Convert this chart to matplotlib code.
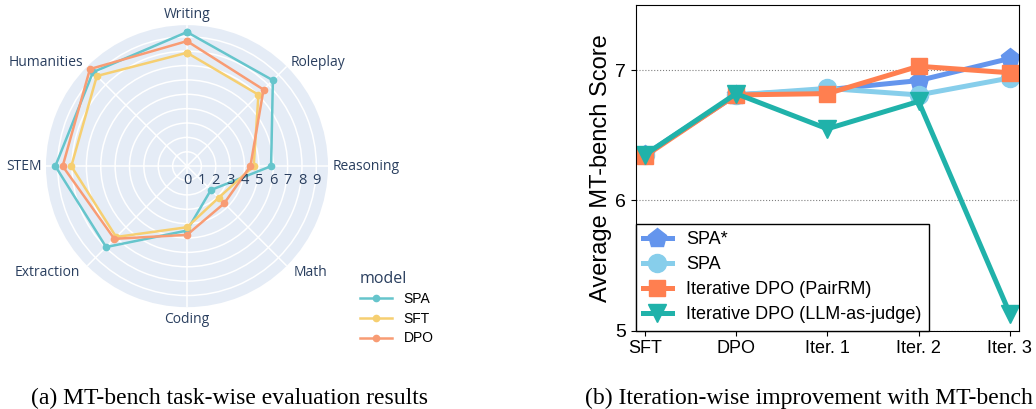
import numpy as np
import matplotlib.pyplot as plt
from matplotlib.lines import Line2D

# ---- data: radar (task-wise MT-bench) ----
tasks = ["Writing", "Roleplay", "Reasoning", "Math", "Coding",
         "Extraction", "STEM", "Humanities"]
spa_task = [9.33, 8.45, 5.85, 2.35, 4.48, 7.96, 9.16, 9.25]
sft_task = [7.89, 7.03, 4.64, 3.11, 4.25, 6.97, 8.05, 8.87]
dpo_task = [8.70, 7.53, 4.41, 3.66, 4.78, 7.15, 8.65, 9.55]
radar_models = ["SPA", "SFT", "DPO"]
radar_ticks = [0, 1, 2, 3, 4, 5, 6, 7, 8, 9]

# ---- data: iteration-wise ----
stages = ["SFT", "DPO", "Iter. 1", "Iter. 2", "Iter. 3"]
spa_star = [6.35, 6.81, 6.85, 6.92, 7.09]
spa_iter = [6.35, 6.81, 6.86, 6.81, 6.94]
dpo_pairrm = [6.34, 6.81, 6.82, 7.03, 6.98]
dpo_judge = [6.35, 6.82, 6.55, 6.76, 5.13]

pastel = ["#66C5CC", "#F6CF71", "#F89C74"]
plotly_txt = "#2a3f5f"

fig = plt.figure(figsize=(10.36, 4.09), dpi=100)

# ================= (a) radar =================
rmax = 9.81
ax = fig.add_axes([0.0444, 0.249, 0.2722, 0.6895], projection="polar")
ax.set_theta_offset(np.pi / 2)
ax.set_theta_direction(-1)
ax.set_facecolor("#E5ECF6")
ax.spines["polar"].set_visible(False)
theta = np.arange(len(tasks)) * 2 * np.pi / len(tasks)
ax.set_xticks(theta)
ax.set_xticklabels([])
ax.set_yticks(radar_ticks[1:])
ax.set_yticklabels([])
ax.set_ylim(0, rmax)
ax.grid(True, color="white", lw=1.1)
ax.tick_params(length=0)

th_closed = np.append(theta, theta[0])
for vals, col in zip([spa_task, sft_task, dpo_task], pastel):
    v = np.append(vals, vals[0])
    ax.plot(th_closed, v, color=col, lw=1.8, marker="o", ms=4.5, clip_on=False)

lab_pos = [(1.078, "center"), (1.04, "left"), (1.03, "left"), (1.07, "left"),
           (1.085, "center"), (1.07, "right"), (1.03, "right"), (1.04, "right")]
for t, name, (rf, ha) in zip(theta, tasks, lab_pos):
    ax.text(t, rmax * rf, name, ha=ha, va="center", fontsize=10,
            family="Open Sans", color=plotly_txt)

for v in radar_ticks:
    ax.annotate(str(v), xy=(np.pi / 2, v), xytext=(0, -10.5),
                textcoords="offset points", ha="center", va="center",
                fontsize=10.5, family="Open Sans", color=plotly_txt)

handles = [Line2D([], [], color=c, lw=1.8, marker="o", ms=4.5) for c in pastel]
leg = fig.legend(handles, radar_models, title="model", loc="upper left",
                 bbox_to_anchor=(350 / 1036, 1 - 261 / 409), frameon=False,
                 prop={"family": "Liberation Sans", "size": 10},
                 handlelength=2.3, handletextpad=0.85, labelspacing=0.4,
                 borderpad=0.2, alignment="left")
leg.get_title().set_fontsize(11.5)
leg.get_title().set_family("Open Sans")
leg.get_title().set_color(plotly_txt)

fig.text(229.7 / 1036, 1 - 398 / 409, "(a) MT-bench task-wise evaluation results",
         ha="center", va="center", fontsize=17, family="Liberation Serif")

# ================= (b) iteration-wise =================
bx = fig.add_axes([0.6136, 0.1914, 0.370, 0.7963])
x = np.arange(len(stages))
bx.plot(x, spa_star, color="#6495ED", marker="p", ms=14, lw=3.6, label="SPA*")
bx.plot(x, spa_iter, color="#87CEEB", marker="o", ms=13, lw=3.6, label="SPA")
bx.plot(x, dpo_pairrm, color="#FF7F50", marker="s", ms=12, lw=3.6,
        label="Iterative DPO (PairRM)")
bx.plot(x, dpo_judge, color="#20B2AA", marker="v", ms=13, lw=3.6,
        label="Iterative DPO (LLM-as-judge)")
bx.set_xlim(-0.1, 4.1)
bx.set_ylim(5, 7.5)
bx.set_yticks([5, 6, 7])
bx.set_xticks(x)
bx.set_xticklabels(stages)
bx.yaxis.grid(True, ls=":", color="gray", lw=0.8)
bx.set_axisbelow(True)
for lab in bx.get_xticklabels() + bx.get_yticklabels():
    lab.set_family("Liberation Sans")
bx.tick_params(axis="y", labelsize=14)
bx.tick_params(axis="x", labelsize=13)
bx.set_ylabel("Average MT-bench Score", fontsize=17, family="Liberation Sans",
              labelpad=2)
lg = bx.legend(loc="lower left", borderaxespad=0, fancybox=False,
               edgecolor="black", framealpha=1,
               prop={"family": "Liberation Sans", "size": 13},
               handlelength=1.6, labelspacing=0.45)
lg.get_frame().set_linewidth(1.0)

fig.text(809 / 1036, 1 - 398 / 409, "(b) Iteration-wise improvement with MT-bench",
         ha="center", va="center", fontsize=17, family="Liberation Serif")

fig.savefig("out.png", dpi=100)
